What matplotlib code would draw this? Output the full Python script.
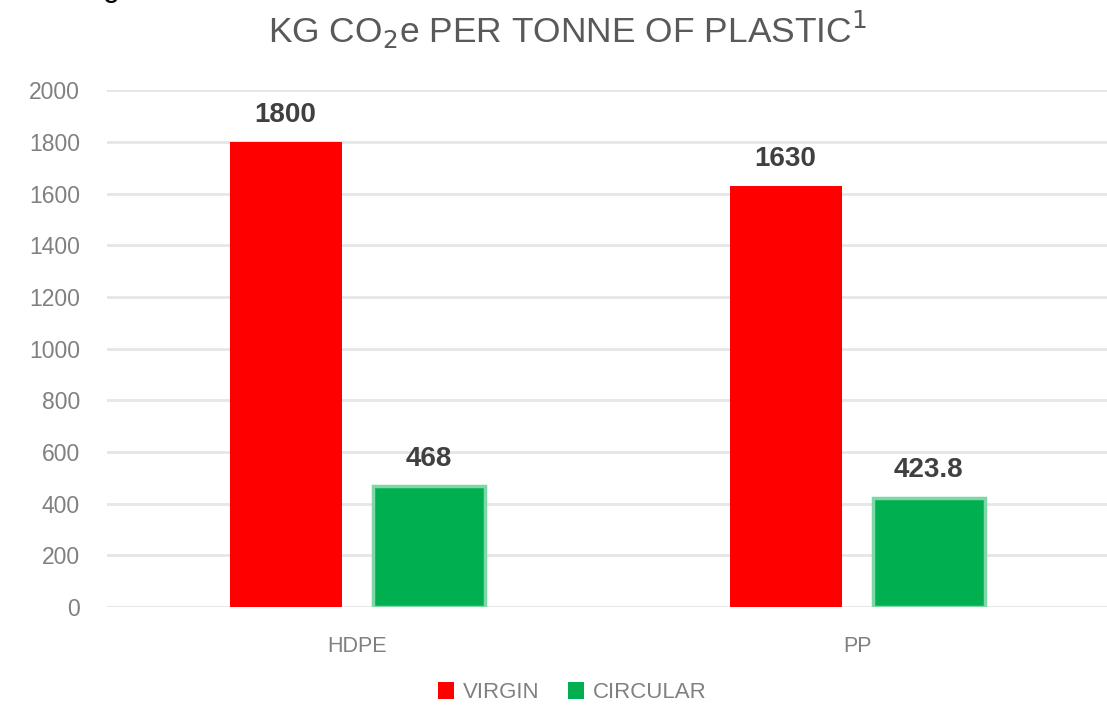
import matplotlib
matplotlib.use("Agg")
import matplotlib.pyplot as plt
import numpy as np
from matplotlib.patches import Patch

categories = ["HDPE", "PP"]
virgin = [1800, 1630]
circular = [468, 423.8]
virgin_labels = ["1800", "1630"]
circular_labels = ["468", "423.8"]
yticks = [0, 200, 400, 600, 800, 1000, 1200, 1400, 1600, 1800, 2000]

plt.rcParams['font.family'] = ['Liberation Sans', 'DejaVu Sans']

fig = plt.figure(figsize=(11.07, 7.05), dpi=100)
ax = fig.add_axes([0.0967, 0.139, 0.9033, 0.733])

x = np.arange(len(categories))
w = 0.224
off = 0.143
red = "#FF0000"
green = "#00B050"
ax.bar(x - off, virgin, w, color=red, zorder=3)
ax.bar(x + off, circular, w, color=green, edgecolor="#7FD7A7", linewidth=2.5, zorder=3)

for xi, v, t in zip(x - off, virgin, virgin_labels):
    ax.text(xi, v + 55, t, ha="center", va="bottom", fontsize=20, fontweight="bold", color="#404040")
for xi, v, t in zip(x + off, circular, circular_labels):
    ax.text(xi, v + 55, t, ha="center", va="bottom", fontsize=20, fontweight="bold", color="#404040")

ax.set_xlim(-0.5, 1.5)
ax.set_ylim(0, 2000)
ax.set_yticks(yticks)
ax.set_yticklabels([str(t) for t in yticks])
ax.set_xticks(x)
ax.set_xticklabels(categories)
ax.tick_params(axis="y", length=0, pad=19.5, labelsize=16.5, labelcolor="#808080")
ax.tick_params(axis="x", length=0, pad=21, labelsize=15.5, labelcolor="#808080")
ax.grid(axis="y", color="#E6E6E6", linewidth=2, zorder=0)
for s in ax.spines.values():
    s.set_visible(False)

fig.text(0.513, 0.958, "KG CO$_2$e PER TONNE OF PLASTIC$^1$", ha="center", va="center",
         fontsize=25.5, color="#595959")
fig.text(0.093, 1.005, "g", ha="left", va="baseline", fontsize=22, color="black")

handles = [Patch(facecolor=red), Patch(facecolor=green)]
leg = fig.legend(handles, ["VIRGIN", "CIRCULAR"], loc="center", bbox_to_anchor=(0.517, 0.018),
                 ncol=2, frameon=False, fontsize=16, handlelength=0.7, handleheight=0.8,
                 handletextpad=0.4, columnspacing=1.3)
for t in leg.get_texts():
    t.set_color("#808080")

fig.savefig("out.png", dpi=100)
